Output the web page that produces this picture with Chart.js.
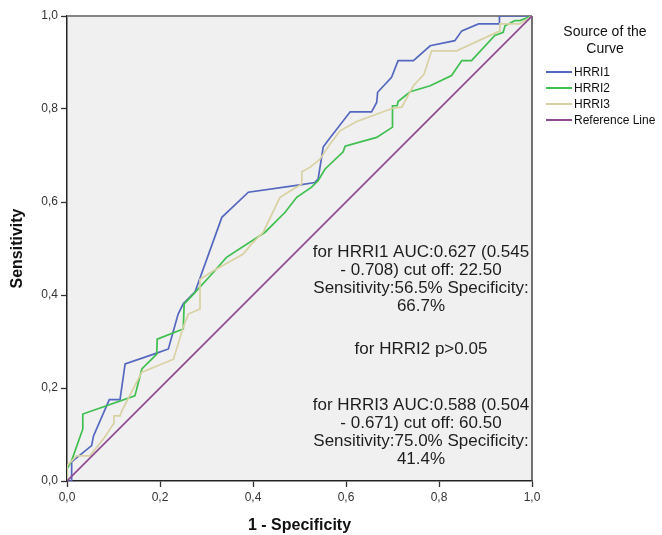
<!DOCTYPE html>
<html>
<head>
<meta charset="utf-8">
<script src="https://cdn.jsdelivr.net/npm/chart.js@4/dist/chart.umd.min.js"></script>
<style>
  html, body { margin: 0; padding: 0; background: #ffffff; }
  #wrap { width: 662px; height: 535px; position: relative; }
</style>
</head>
<body>
<div id="wrap"><canvas id="c" width="662" height="535"></canvas></div>
<script>
// ---- Data ----
const seriesNames = ['HRRI1', 'HRRI2', 'HRRI3', 'Reference Line'];
const xTickLabels = ['0,0', '0,2', '0,4', '0,6', '0,8', '1,0'];
const yTickLabels = ['0,0', '0,2', '0,4', '0,6', '0,8', '1,0'];

const hrri1X = [0, 0.010, 0.010, 0.053, 0.057, 0.091, 0.114, 0.125, 0.193, 0.218, 0.239, 0.250, 0.275, 0.333, 0.390, 0.501, 0.533, 0.540, 0.551, 0.558, 0.609, 0.655, 0.666, 0.668, 0.698, 0.712, 0.745, 0.781, 0.834, 0.849, 0.885, 0.930, 0.930, 1.0];
const hrri1Y = [0, 0, 0.041, 0.076, 0.097, 0.175, 0.175, 0.252, 0.275, 0.284, 0.359, 0.381, 0.406, 0.567, 0.621, 0.637, 0.642, 0.649, 0.718, 0.728, 0.794, 0.794, 0.814, 0.836, 0.868, 0.904, 0.904, 0.936, 0.947, 0.968, 0.983, 0.983, 1.0, 1.0];

const hrri2X = [0, 0, 0.010, 0.034, 0.034, 0.146, 0.161, 0.193, 0.194, 0.250, 0.252, 0.272, 0.315, 0.343, 0.426, 0.469, 0.494, 0.526, 0.540, 0.555, 0.594, 0.598, 0.666, 0.700, 0.700, 0.710, 0.712, 0.738, 0.781, 0.827, 0.849, 0.870, 0.920, 0.938, 0.942, 0.963, 0.974, 1.0];
const hrri2Y = [0, 0.026, 0.044, 0.112, 0.144, 0.183, 0.241, 0.273, 0.305, 0.327, 0.381, 0.402, 0.449, 0.481, 0.535, 0.578, 0.610, 0.632, 0.646, 0.671, 0.708, 0.720, 0.739, 0.761, 0.807, 0.807, 0.816, 0.837, 0.850, 0.872, 0.904, 0.904, 0.958, 0.965, 0.979, 0.990, 0.990, 1.0];

const hrri3X = [0, 0, 0.021, 0.049, 0.078, 0.100, 0.101, 0.114, 0.118, 0.146, 0.161, 0.229, 0.250, 0.261, 0.286, 0.286, 0.315, 0.379, 0.397, 0.422, 0.458, 0.487, 0.505, 0.505, 0.523, 0.544, 0.566, 0.587, 0.623, 0.702, 0.720, 0.745, 0.768, 0.784, 0.838, 0.931, 0.931, 0.974, 1.0];
const hrri3Y = [0, 0.033, 0.054, 0.054, 0.090, 0.123, 0.140, 0.140, 0.151, 0.205, 0.234, 0.262, 0.331, 0.359, 0.370, 0.434, 0.452, 0.488, 0.510, 0.535, 0.610, 0.628, 0.639, 0.665, 0.675, 0.692, 0.725, 0.753, 0.773, 0.802, 0.804, 0.850, 0.875, 0.925, 0.925, 0.968, 0.983, 0.983, 1.0];

const refX = [0, 1];
const refY = [0, 1];

const annotationLines = [
  'for HRRI1 AUC:0.627 (0.545',
  '- 0.708) cut off: 22.50',
  'Sensitivity:56.5% Specificity:',
  '66.7%',
  'for HRRI2 p>0.05',
  'for HRRI3 AUC:0.588 (0.504',
  '- 0.671) cut off: 60.50',
  'Sensitivity:75.0% Specificity:',
  '41.4%'
];
const legendTitle = ['Source of the', 'Curve'];

// ---- Styles ----
const colors = ['#5468c0', '#3fbf4f', '#d8d1a3', '#8d4a93'];
const FONT = "'Liberation Sans', Arial, sans-serif";

function pts(xs, ys) { return xs.map((x, i) => ({ x: x, y: ys[i] })); }

const seriesX = [hrri1X, hrri2X, hrri3X, refX];
const seriesY = [hrri1Y, hrri2Y, hrri3Y, refY];
const drawOrder = [3, 2, 1, 0];

const datasets = seriesNames.map((name, i) => ({
  label: name,
  data: pts(seriesX[i], seriesY[i]),
  borderColor: colors[i],
  backgroundColor: colors[i],
  borderWidth: i === 3 ? 1.6 : 1.7,
  showLine: true,
  pointRadius: 0,
  tension: 0,
  fill: false,
  order: drawOrder[i]
}));

const framePlugin = {
  id: 'frame',
  beforeDraw(chart) {
    const { ctx, chartArea: a } = chart;
    ctx.save();
    ctx.fillStyle = '#f0f0f0';
    ctx.fillRect(a.left, a.top, a.right - a.left, a.bottom - a.top);
    ctx.restore();
  },
  beforeDatasetsDraw(chart) {
    const { ctx, chartArea: a } = chart;
    ctx.save();
    ctx.strokeStyle = '#858585';
    ctx.lineWidth = 2;
    ctx.beginPath();
    ctx.moveTo(a.left, a.top);
    ctx.lineTo(a.right, a.top);
    ctx.stroke();
    ctx.strokeStyle = '#444';
    ctx.lineWidth = 1.5;
    ctx.beginPath();
    ctx.moveTo(a.right, a.top);
    ctx.lineTo(a.right, a.bottom);
    ctx.stroke();
    ctx.restore();
  },
  afterDraw(chart) {
    const { ctx } = chart;
    ctx.save();
    // annotation text
    ctx.fillStyle = '#1e1e1e';
    ctx.font = '17px ' + FONT;
    ctx.textAlign = 'center';
    ctx.textBaseline = 'middle';
    const ys = [252, 270, 288, 306, 349, 405, 423, 441, 459];
    annotationLines.forEach((t, i) => ctx.fillText(t, 421, ys[i]));
    // legend
    ctx.fillStyle = '#111';
    ctx.font = '14px ' + FONT;
    ctx.fillText(legendTitle[0], 605, 32);
    ctx.fillText(legendTitle[1], 605, 49);
    ctx.font = '12px ' + FONT;
    ctx.textAlign = 'left';
    const ly = [72, 88, 104, 120];
    seriesNames.forEach((n, i) => {
      ctx.strokeStyle = colors[i];
      ctx.lineWidth = 2;
      ctx.beginPath();
      ctx.moveTo(546, ly[i]);
      ctx.lineTo(572, ly[i]);
      ctx.stroke();
      ctx.fillStyle = '#111';
      ctx.fillText(n, 574, ly[i] + 1);
    });
    ctx.restore();
  }
};

new Chart(document.getElementById('c'), {
  type: 'scatter',
  data: { datasets: datasets },
  options: {
    responsive: false,
    animation: false,
    events: [],
    layout: { padding: { top: 16, right: 130, left: 0, bottom: 0 } },
    plugins: { legend: { display: false }, tooltip: { enabled: false } },
    scales: {
      x: {
        type: 'linear', min: 0, max: 1,
        afterFit(s) { s.height = 54; },
        ticks: {
          stepSize: 0.2, color: '#333', padding: 3,
          font: { family: FONT, size: 12 },
          callback: (v, i) => xTickLabels[i]
        },
        grid: { drawOnChartArea: false, drawTicks: true, tickLength: 6, tickColor: '#333', tickWidth: 1.3 },
        border: { display: true, color: '#222', width: 1.5 },
        title: { display: true, text: '1 - Specificity', color: '#111',
                 font: { family: FONT, size: 16, weight: 'bold' }, padding: { top: 0, bottom: 0 } }
      },
      y: {
        type: 'linear', min: 0, max: 1,
        afterFit(s) { s.width = 67; },
        ticks: {
          stepSize: 0.2, color: '#333', padding: 3,
          font: { family: FONT, size: 12 },
          callback: (v, i) => yTickLabels[i]
        },
        grid: { drawOnChartArea: false, drawTicks: true, tickLength: 6, tickColor: '#333', tickWidth: 1.3 },
        border: { display: true, color: '#222', width: 1.5 },
        title: { display: true, text: 'Sensitivity', color: '#111',
                 font: { family: FONT, size: 16, weight: 'bold' }, padding: { top: 8, bottom: 0 } }
      }
    }
  },
  plugins: [framePlugin]
});
</script>
</body>
</html>
